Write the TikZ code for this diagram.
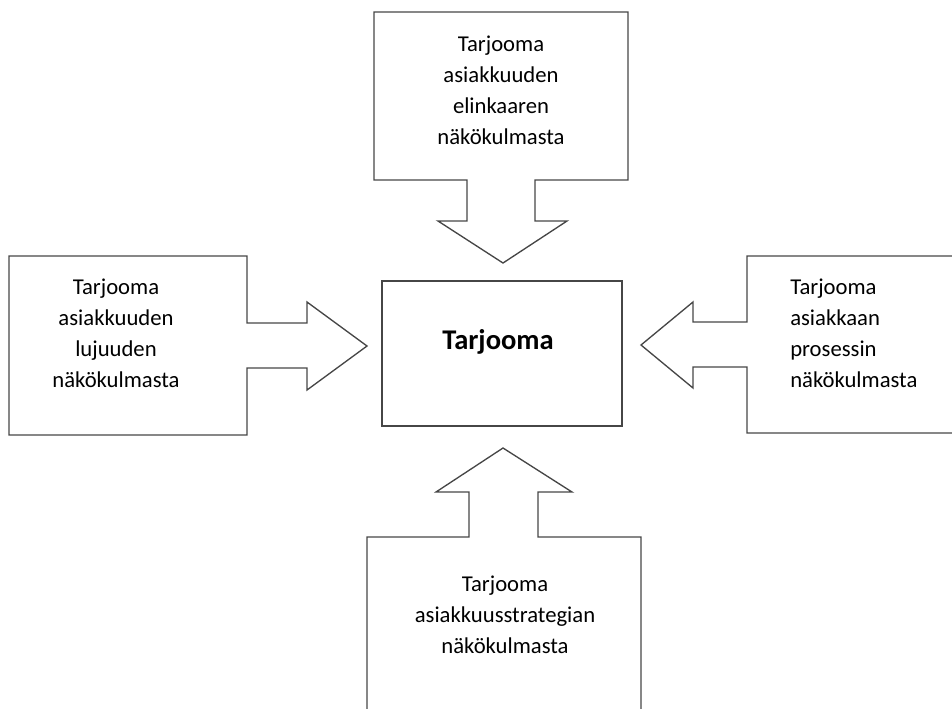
\documentclass[tikz,border=0pt]{standalone}
\usepackage{fontspec}
\setmainfont{Carlito}
\usepackage{tikz}

\begin{document}
\begin{tikzpicture}[x=0.75pt,y=0.75pt,yscale=-1,
    callout/.style={color={rgb, 255:red, 70; green, 70; blue, 70 }, line width=1pt, line join=miter},
    lbl/.style={font=\fontsize{17}{23.25}\selectfont, align=center, inner sep=0pt}]
    \useasboundingbox (0,0) rectangle (952,708);

    %Shape: Callout down [id:top]
    \draw [callout] (374,12) -- (628,12) -- (628,180) -- (535,180) -- (535,221) -- (567,221) -- (503,263) -- (438,221) -- (467,221) -- (467,180) -- (374,180) -- cycle ;
    %Shape: Callout right [id:left]
    \draw [callout] (9,256) -- (247,256) -- (247,323) -- (307,323) -- (307,302) -- (367,346) -- (307,390) -- (307,368) -- (247,368) -- (247,435) -- (9,435) -- cycle ;
    %Shape: Callout left [id:right]
    \draw [callout] (965,256) -- (747,256) -- (747,322) -- (693,322) -- (693,302) -- (641,345) -- (693,388) -- (693,367) -- (747,367) -- (747,433) -- (965,433) ;
    %Shape: Callout up [id:bottom]
    \draw [callout] (367,720) -- (367,537) -- (469,537) -- (469,492) -- (436,492) -- (503,448) -- (572,492) -- (538,492) -- (538,537) -- (641,537) -- (641,720) ;
    %Shape: Rectangle [id:centre]
    \draw [callout] (382,281) -- (622,281) -- (622,426) -- (382,426) -- cycle ;

    % Text Node
    \draw (498,342) node (tarjooma) [font=\fontsize{21.4}{26}\selectfont\bfseries] {Tarjooma};
    % Text Node
    \draw (501,90) node (elinkaari) [lbl] {Tarjooma\\asiakkuuden\\elinkaaren\\näkökulmasta};
    % Text Node
    \draw (116,333) node (lujuus) [lbl] {Tarjooma\\asiakkuuden\\lujuuden\\näkökulmasta};
    % Text Node
    \draw (790,333) node (prosessi) [lbl, align=left, anchor=west] {Tarjooma\\asiakkaan\\prosessin\\näkökulmasta};
    % Text Node
    \draw (505,615) node (strategia) [lbl] {Tarjooma\\asiakkuusstrategian\\näkökulmasta};

\end{tikzpicture}
\end{document}
